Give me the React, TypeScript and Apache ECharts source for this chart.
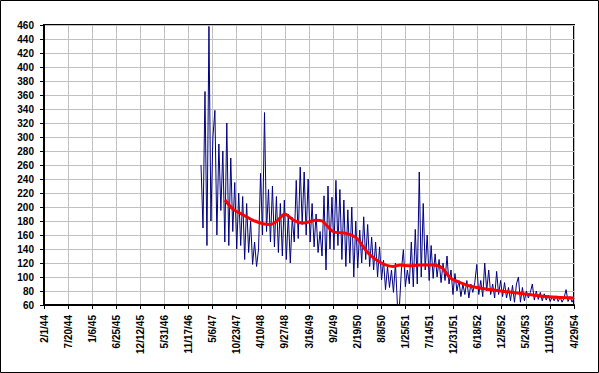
import React, { useEffect, useRef } from "react";
import * as echarts from "echarts";

// x axis: days since 2/1/44, ticks every 170 days
const AXIS_START = Date.UTC(1944, 1, 1);
const AXIS_MAX_DAYS = 3740;
const TICK_DAYS = 170;

// raw series: one reading every 14 days, first reading at day 1108
const RAW_START_DAY = 1108;
const RAW_STEP_DAYS = 14;
const rawValues = [
  260, 170, 365, 145, 458, 180, 300, 338, 160, 290,
  195, 280, 150, 320, 145, 270, 165, 235, 140, 220,
  145, 215, 125, 205, 135, 180, 118, 150, 115, 140,
  248, 160, 335, 165, 225, 150, 230, 143, 215, 135,
  205, 130, 210, 125, 190, 120, 185, 150, 238, 155,
  257, 175, 250, 160, 240, 150, 205, 143, 190, 135,
  165, 130, 216, 110, 230, 140, 214, 139, 238, 145,
  225, 125, 210, 115, 196, 120, 200, 100, 180, 113,
  167, 120, 186, 125, 175, 115, 157, 110, 150, 100,
  143, 96, 124, 82, 115, 85, 110, 78, 120, 60,
  58, 110, 139, 86, 110, 90, 150, 86, 168, 90,
  250, 100, 205, 110, 160, 95, 145, 98, 133, 100,
  125, 92, 120, 95, 130, 90, 110, 75, 105, 80,
  95, 72, 90, 75, 95, 70, 90, 78, 92, 118,
  75, 95, 72, 120, 80, 110, 75, 90, 70, 108,
  75, 95, 72, 92, 70, 85, 66, 88, 64, 90,
  100, 64, 85, 66, 80, 70, 78, 90, 67, 80,
  68, 78, 66, 76, 67, 74, 65, 72, 66, 73,
  65, 71, 64, 70, 82, 65, 72, 64, 70,
];

// smoothed (moving average) series
const avgDays = [
  1277, 1334, 1404, 1475, 1545, 1595, 1644, 1701, 1736, 1771,
  1828, 1919, 1962, 2039, 2138, 2209, 2279, 2371, 2463, 2512,
  2583, 2653, 2745, 2809, 2865, 2936, 3027, 3147, 3267, 3380,
  3500, 3620, 3740,
];
const avgValues = [
  210, 197, 189, 181, 176, 175, 180, 190, 185, 180,
  177, 181, 180, 165, 162, 155, 136, 121, 115, 117,
  116, 117, 117, 113, 99, 92, 86, 82, 79, 76,
  73, 71, 70,
];

const Y_MIN = 60;
const Y_MAX = 460;
const Y_STEP = 20;

const FONT = "'Liberation Sans', Arial, sans-serif";

function fmtDay(v: number): string {
  const d = new Date(AXIS_START + Math.round(v) * 86400000);
  const yy = String(d.getUTCFullYear() % 100).padStart(2, "0");
  return `${d.getUTCMonth() + 1}/${d.getUTCDate()}/${yy}`;
}

export default function App() {
  const ref = useRef<HTMLDivElement>(null);

  useEffect(() => {
    document.body.style.margin = "0";
    if (!ref.current) return;
    const chart = echarts.init(ref.current, null, { renderer: "svg" });

    const rawData = rawValues.map((v, i) => [RAW_START_DAY + i * RAW_STEP_DAYS, v]);
    const avgData = avgValues.map((v, i) => [avgDays[i], v]);

    chart.setOption({
      animation: false,
      backgroundColor: "#ffffff",
      graphic: [
        {
          type: "rect",
          shape: { x: 0.5, y: 0.5, width: 598, height: 372 },
          style: { fill: "none", stroke: "#000", lineWidth: 1 },
          z: 100,
        },
      ],
      grid: {
        left: 44,
        top: 25,
        right: 25,
        bottom: 68,
        show: true,
        borderColor: "#000",
        borderWidth: 2,
        backgroundColor: "#ffffff",
      },
      xAxis: {
        type: "value",
        min: 0,
        max: AXIS_MAX_DAYS,
        interval: TICK_DAYS,
        axisLine: { show: true, lineStyle: { color: "#000", width: 2 } },
        axisTick: { show: true, length: 4, lineStyle: { color: "#000", width: 1 } },
        splitLine: { show: true, lineStyle: { color: "#c0c0c0", width: 1 } },
        axisLabel: {
          rotate: 90,
          margin: 10,
          color: "#000",
          fontFamily: FONT,
          fontWeight: "bold",
          fontSize: 10,
          formatter: (v: number) => fmtDay(v),
          showMinLabel: true,
          showMaxLabel: true,
        },
      },
      yAxis: {
        type: "value",
        min: Y_MIN,
        max: Y_MAX,
        interval: Y_STEP,
        axisLine: { show: true, lineStyle: { color: "#000", width: 2 } },
        axisTick: { show: true, length: 4, lineStyle: { color: "#000", width: 1 } },
        splitLine: { show: true, lineStyle: { color: "#c0c0c0", width: 1 } },
        axisLabel: {
          margin: 10,
          color: "#000",
          fontFamily: FONT,
          fontWeight: "bold",
          fontSize: 10,
        },
      },
      series: [
        {
          type: "line",
          data: rawData,
          showSymbol: false,
          symbol: "none",
          lineStyle: { color: "#000080", width: 1 },
          clip: true,
          z: 2,
        },
        {
          type: "line",
          data: avgData,
          showSymbol: false,
          symbol: "none",
          smooth: 0.3,
          lineStyle: { color: "#ff0000", width: 3 },
          clip: true,
          z: 3,
        },
      ],
    });

    return () => chart.dispose();
  }, []);

  return <div ref={ref} style={{ width: 599, height: 373 }} />;
}
